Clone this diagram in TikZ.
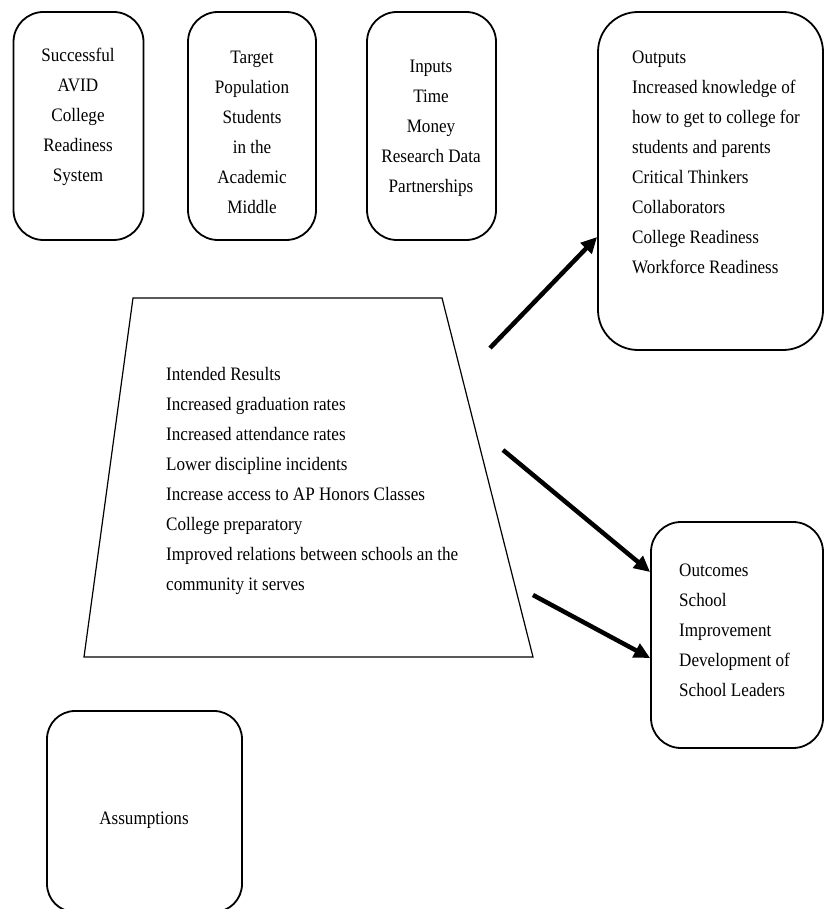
\documentclass[tikz,border=0pt]{standalone}
\usepackage{fontspec}
\newfontfamily\narrowserif[FakeStretch=0.9]{Liberation Serif}
\usetikzlibrary{arrows.meta}

\begin{document}
\begin{tikzpicture}[x=1pt, y=-1pt,
    card/.style={draw, line width=1.8pt, rounded corners=30pt},
    words/.style={font=\narrowserif\fontsize{19}{30}\selectfont, inner sep=0pt},
    link/.style={line width=4.5pt, -{Triangle[length=16pt, width=15pt]}}]
                    \useasboundingbox (0,0) rectangle (825,909);

                    % top row
                    \node[card, minimum width=130pt, minimum height=228pt] (avid) at (78.5,126) {};
                    \node[card, minimum width=128pt, minimum height=228pt] (target) at (252,126) {};
                    \node[card, minimum width=129pt, minimum height=228pt] (inputs) at (431.5,126) {};
                    \node[card, rounded corners=40pt, minimum width=225pt, minimum height=338pt] (outputs) at (710.5,181) {};

                    \node[words, align=center] (avidtext) at (78,117) {Successful\\AVID\\College\\Readiness\\System};
                    \node[words, align=center] (targettext) at (252,132) {Target\\Population\\Students\\in the\\Academic\\Middle};
                    \node[words, align=center] (inputstext) at (431,128) {Inputs\\Time\\Money\\Research Data\\Partnerships};
                    \node[words, align=left, anchor=west] (outputstext) at (632,162) {Outputs\\Increased knowledge of\\how to get to college for\\students and parents\\Critical Thinkers\\Collaborators\\College Readiness\\Workforce Readiness};

                    % middle
                    \draw[line width=1.2pt] (133,298) -- (442,298) -- (533,657) -- (84,657) -- cycle;
                    \node[words, align=left, anchor=west] (results) at (166,481) {Intended Results\\Increased graduation rates\\Increased attendance rates\\Lower discipline incidents\\Increase access to AP Honors Classes\\College preparatory\\Improved relations between schools an the\\community it serves};

                    \node[card, minimum width=172pt, minimum height=226pt] (outcomes) at (737,635) {};
                    \node[words, align=left, anchor=west] (outcomestext) at (679,630) {Outcomes\\School\\Improvement\\Development of\\School Leaders};

                    % bottom
                    \node[card, rounded corners=28pt, minimum width=195pt, minimum height=201pt] (assumptions) at (144.5,811.5) {};
                    \node[words] (assumptionstext) at (144,820) {Assumptions};

                    \coordinate (r1) at (490,348);
                    \coordinate (r2) at (503,450);
                    \coordinate (r3) at (533,595);

                    \draw[link] (r1) -- ([yshift=-56pt]outputs.west);
                    \draw[link] (r2) -- ([yshift=63pt]outcomes.west);
                    \draw[link] (r3) -- ([yshift=-23pt]outcomes.west);
                \end{tikzpicture}
\end{document}
